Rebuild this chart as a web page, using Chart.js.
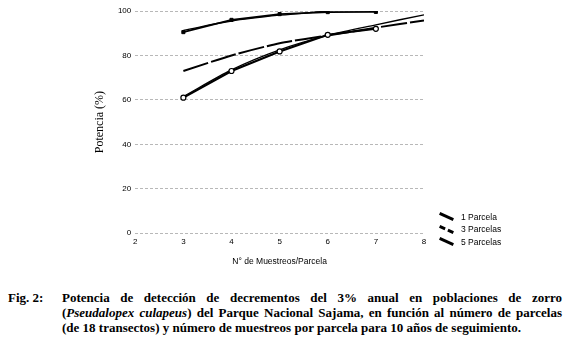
<!DOCTYPE html>
<html lang="es">
<head>
<meta charset="utf-8">
<title>Potencia de detección</title>
<script src="https://cdn.jsdelivr.net/npm/chart.js@4.4.1/dist/chart.umd.min.js"></script>
<style>
    html, body { margin: 0; padding: 0; background: #fff; width: 570px; height: 346px; overflow: hidden; }
    #contenedor { position: relative; width: 570px; height: 280px; }
    #leyenda { position: absolute; left: 439px; top: 210.5px; font: 8.5px "Liberation Sans", Arial, sans-serif; color: #000; }
    .item { display: flex; align-items: center; height: 12.6px; white-space: nowrap; }
    .marca { width: 15px; height: 0; border-top: 3px solid #000; transform: rotate(24deg); margin-right: 7px; }
    .marca.guion { border-top-style: dashed; }
    #pie { position: absolute; top: 290px; left: 0; width: 570px; font: bold 13px "Liberation Serif", "Times New Roman", serif; line-height: 15px; color: #000; }
    #fig { position: absolute; left: 8px; top: 0; }
    #texto { position: absolute; left: 62px; top: 0; width: 500px; }
    .linea { text-align: justify; text-align-last: justify; white-space: nowrap; }
    .linea.ultima { text-align-last: left; }
</style>
</head>
<body>
<div id="contenedor">
    <canvas id="potenciaChart" width="570" height="280"></canvas>
    <div id="leyenda"></div>
</div>
<div id="pie">
    <div id="fig">Fig. 2:</div>
    <div id="texto">
        <div class="linea">Potencia de detección de decrementos del 3% anual en poblaciones de zorro</div>
        <div class="linea">(<i>Pseudalopex culapeus</i>) del Parque Nacional Sajama, en función al número de parcelas</div>
        <div class="linea ultima">(de 18 transectos) y número de muestreos por parcela para 10 años de seguimiento.</div>
    </div>
</div>

<script>
// Datos (N° de muestreos por parcela vs potencia %)
const muestreos = [3, 4, 5, 6, 7];
const muestreosLargo = [3, 4, 5, 6, 7, 8];
const muestreosCorto = [3, 4, 5, 6];

const parcela1 = [61, 73, 81.8, 89.3, 92];
const parcela1Tendencia = [61.5, 73.5, 82.5, 89, 93.8, 98.3];
const parcelas3 = [73, 80, 85.5, 89, 92.5, 95.7];
const parcelas5 = [90.5, 96, 98.6, 99.5, 99.6];
const parcelas5Tendencia = [91.3, 95.5, 98.1, 100];

const ticksX = [2, 3, 4, 5, 6, 7, 8];
const ticksY = [0, 20, 40, 60, 80, 100];

function puntos(xs, ys) {
    return xs.map((x, i) => ({ x: x, y: ys[i] }));
}

Chart.defaults.font.family = '"Liberation Sans", Arial, sans-serif';
Chart.defaults.color = '#000';

document.addEventListener('DOMContentLoaded', function() {
    const ctx = document.getElementById('potenciaChart').getContext('2d');

    const chartData = {
        datasets: [
            {
                label: '1 Parcela',
                data: puntos(muestreos, parcela1),
                borderColor: '#000',
                borderWidth: 2.2,
                backgroundColor: '#fff',
                pointStyle: 'circle',
                pointRadius: 2.5,
                pointBorderWidth: 1.2,
                pointBorderColor: '#000',
                tension: 0,
                leyenda: 'solida'
            },
            {
                label: '',
                data: puntos(muestreosLargo, parcela1Tendencia),
                borderColor: '#000',
                borderWidth: 1.3,
                pointRadius: 0,
                tension: 0.3
            },
            {
                label: '3 Parcelas',
                data: puntos(muestreosLargo, parcelas3),
                borderColor: '#000',
                borderWidth: 2,
                borderDash: [26, 3],
                pointRadius: 0,
                tension: 0.2,
                leyenda: 'guion'
            },
            {
                label: '5 Parcelas',
                data: puntos(muestreos, parcelas5),
                borderColor: '#000',
                borderWidth: 1.6,
                backgroundColor: '#000',
                pointStyle: 'rect',
                pointRadius: 2.2,
                pointBorderWidth: 1,
                tension: 0,
                leyenda: 'solida'
            },
            {
                label: '',
                data: puntos(muestreosCorto, parcelas5Tendencia),
                borderColor: '#000',
                borderWidth: 1.3,
                pointRadius: 0,
                tension: 0.3
            }
        ]
    };

    const options = {
        responsive: false,
        animation: false,
        layout: {
            padding: { left: 93, right: 146, top: 11, bottom: 13 }
        },
        plugins: {
            legend: { display: false },
            tooltip: { enabled: false }
        },
        scales: {
            x: {
                type: 'linear',
                min: 2,
                max: 8,
                afterBuildTicks: function(axis) {
                    axis.ticks = ticksX.map(v => ({ value: v }));
                },
                ticks: {
                    font: { size: 8 },
                    padding: 4,
                    maxRotation: 0
                },
                grid: { display: false, drawTicks: false },
                border: { display: false },
                title: {
                    display: true,
                    text: 'N° de Muestreos/Parcela',
                    font: { size: 8.5 },
                    padding: { top: 6, bottom: 0 }
                }
            },
            y: {
                min: 0,
                max: 100,
                afterBuildTicks: function(axis) {
                    axis.ticks = ticksY.map(v => ({ value: v }));
                },
                ticks: {
                    font: { size: 8 },
                    padding: 4
                },
                grid: { color: '#b8b8b8', lineWidth: 1, drawTicks: false },
                border: { display: false, dash: [3, 2] },
                title: {
                    display: true,
                    text: 'Potencia (%)',
                    font: { size: 12, family: '"Liberation Serif", "Times New Roman", serif' },
                    padding: { top: 0, bottom: 6.5 }
                }
            }
        }
    };

    const grafico = new Chart(ctx, {
        type: 'line',
        data: chartData,
        options: options
    });

    // Leyenda en HTML, a partir de los datasets con etiqueta
    const leyenda = document.getElementById('leyenda');
    grafico.data.datasets.filter(ds => ds.label).forEach(ds => {
        const item = document.createElement('div');
        item.className = 'item';
        const marca = document.createElement('span');
        marca.className = 'marca' + (ds.leyenda === 'guion' ? ' guion' : '');
        const texto = document.createElement('span');
        texto.textContent = ds.label;
        item.appendChild(marca);
        item.appendChild(texto);
        leyenda.appendChild(item);
    });
});
</script>
</body>
</html>
